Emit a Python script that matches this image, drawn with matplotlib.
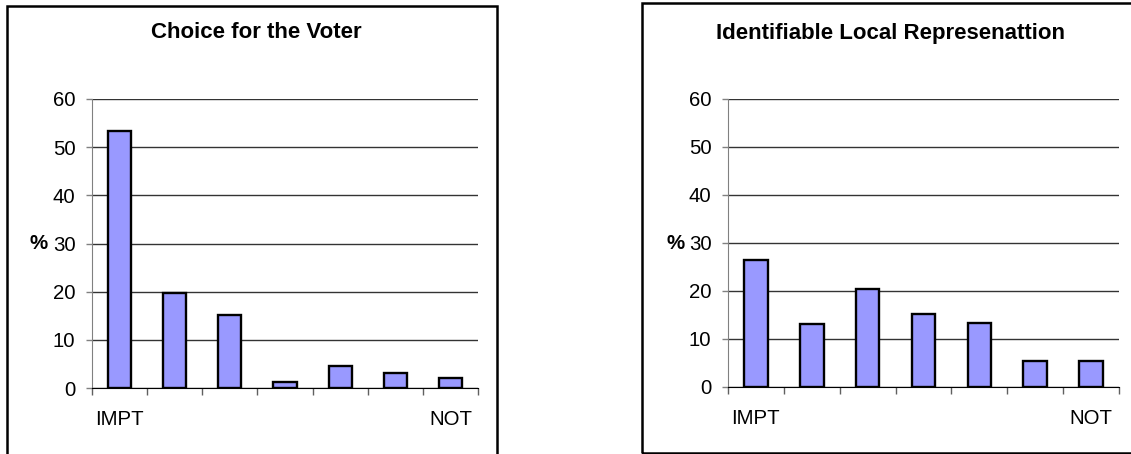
import matplotlib
matplotlib.use('Agg')
import matplotlib.pyplot as plt
from matplotlib.patches import Rectangle
import numpy as np

plt.rcParams['font.family'] = ['Liberation Sans', 'DejaVu Sans']

# data (percent, IMPT -> NOT)
voter_choice = [53.3, 19.8, 15.1, 1.3, 4.5, 3.2, 2.0]
local_rep = [26.4, 13.2, 20.5, 15.2, 13.4, 5.4, 5.4]
titles = ['Choice for the Voter', 'Identifiable Local Represenattion']
yticks = [0, 10, 20, 30, 40, 50, 60]
end_labels = ['IMPT', 'NOT']

W, H = 1131, 454
fig = plt.figure(figsize=(W / 100, H / 100), dpi=100)

BAR_COLOR = '#9999ff'
GRID_COLOR = '#333333'
FS = 14.7


def px(x0, y0, x1, y1):
    # pixel box -> figure fraction rect
    return [x0 / W, 1 - y1 / H, (x1 - x0) / W, (y1 - y0) / H]


def panel(rect, values, title, title_x, pct_x):
    ax = fig.add_axes(rect)
    n = len(values)
    x = np.arange(n)
    ax.bar(x, values, width=0.42, color=BAR_COLOR, edgecolor='black',
           linewidth=1.7, zorder=3)
    ax.set_xlim(-0.5, n - 0.5)
    ax.set_ylim(0, 60)
    ax.set_yticks(yticks)
    ax.yaxis.grid(True, color=GRID_COLOR, linewidth=1.0)
    ax.set_axisbelow(True)
    for s in ['top', 'right']:
        ax.spines[s].set_visible(False)
    ax.spines['left'].set_color('#808080')
    ax.spines['bottom'].set_color('black')
    ax.tick_params(axis='y', length=4.5, width=1.0, color='#808080',
                   labelsize=FS, pad=7.5)
    # category boundary ticks, labels only at both ends
    ax.set_xticks(np.arange(n + 1) - 0.5, minor=True)
    ax.set_xticks([0, n - 1])
    ax.set_xticklabels(end_labels)
    ax.tick_params(axis='x', which='minor', length=5, width=1.0, color='#606060')
    ax.tick_params(axis='x', which='major', length=0, labelsize=FS, pad=16)
    fig.text(title_x / W, 1 - 33 / H, title, ha='center', va='center',
             fontsize=16, fontweight='bold')
    fig.text(pct_x / W, 1 - 243 / H, '%', ha='center', va='center',
             fontsize=FS, fontweight='bold')
    return ax


panel(px(92, 99, 478, 388), voter_choice, titles[0], 256, 38.5)
panel(px(728, 99, 1119, 387), local_rep, titles[1], 891, 676)

# chart area frames
fig.patches.append(Rectangle((7 / W, -0.05), 490 / W, 1.05 - 6 / H,
                             transform=fig.transFigure, fill=False,
                             edgecolor='black', linewidth=1.8))
fig.patches.append(Rectangle((642 / W, 1 - 453 / H), 0.5, 450 / H,
                             transform=fig.transFigure, fill=False,
                             edgecolor='black', linewidth=1.8))

fig.savefig('out.png', dpi=100)
